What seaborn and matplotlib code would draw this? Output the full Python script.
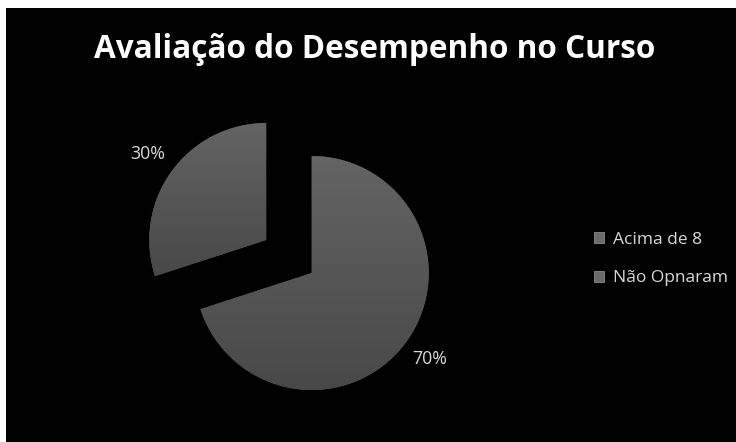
import matplotlib
matplotlib.use("Agg")
import matplotlib.pyplot as plt
import seaborn as sns
import numpy as np
from matplotlib.patches import Rectangle

categories = ["Acima de 8", "Não Opnaram"]
values = [70, 30]
title = "Avaliação do Desempenho no Curso"

sns.set_style("white")
plt.rcParams['font.family'] = ['Open Sans', 'DejaVu Sans']

W, H = 736, 442
fig = plt.figure(figsize=(W / 100, H / 100), dpi=100, facecolor="white")
fig.patches.append(Rectangle((6 / W, 0), 1, (H - 8) / H, transform=fig.transFigure,
                             facecolor="black", edgecolor="none", zorder=-10))

ax = fig.add_axes([0, 0, 1, 1])
ax.set_facecolor("none")
ax.set_zorder(1)

R = 117.0
cx, cy = 289.0, 256.5
palette = sns.color_palette(["#5e5e5e", "#5e5e5e"])
wedges, texts, autotexts = ax.pie(
    values, startangle=90, counterclock=False, explode=[0.24, 0.24],
    colors=palette, autopct="%1.0f%%", pctdistance=1.25,
    wedgeprops=dict(linewidth=0),
    textprops=dict(color="#d9d9d9", fontsize=12.8))
ax.set_aspect("equal", adjustable="datalim")
ax.axis("off")

grad = np.linspace(0, 1, 256).reshape(-1, 1)
cmap = matplotlib.colors.LinearSegmentedColormap.from_list("g", ["#646464", "#484848"])
for w in wedges:
    bb = w.get_path().get_extents(w.get_patch_transform())
    im = ax.imshow(grad, cmap=cmap, aspect="auto",
                   extent=(bb.x0, bb.x1, bb.y0, bb.y1), origin="upper", zorder=2)
    im.set_clip_path(w)
ax.set_xlim(-cx / R, (W - cx) / R)
ax.set_ylim(-(H - cy) / R, cy / R)
for t in autotexts:
    t.set_zorder(5)

fig.text(375 / W, 1 - 49 / H, title, color="white", fontsize=22.7, fontweight="bold",
         ha="center", va="center")

leg = fig.legend(wedges, categories, loc="center left",
                 bbox_to_anchor=(578 / W, 1 - 259 / H), frameon=False,
                 labelcolor="#d9d9d9", fontsize=12.5, handlelength=0.6, handleheight=0.6,
                 handletextpad=0.5, labelspacing=1.3)
for h in leg.legend_handles:
    h.set_edgecolor("#8a8a8a")
    h.set_linewidth(0.6)
    h.set_facecolor("#6a6a6a")

fig.savefig("out.png", dpi=100, facecolor="white")
